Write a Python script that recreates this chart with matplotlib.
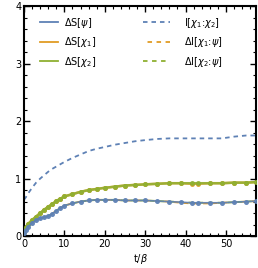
import matplotlib.pyplot as plt
from matplotlib.ticker import MultipleLocator

t = [0, 0.5, 1, 2, 3, 4, 5, 6, 7, 8, 9, 10, 12, 14, 16, 18, 20, 22.5, 25,
     27.5, 30, 33, 36, 39, 41.5, 43, 46, 49, 52, 55, 57.5]

i12 = [0.63, 0.68, 0.74, 0.84, 0.93, 1.0, 1.06, 1.12, 1.17, 1.21, 1.25, 1.29,
       1.36, 1.42, 1.48, 1.52, 1.55, 1.59, 1.62, 1.65, 1.67, 1.69, 1.70, 1.70,
       1.70, 1.70, 1.70, 1.70, 1.73, 1.75, 1.75]

s_chi = [0.08, 0.15, 0.21, 0.28, 0.34, 0.40, 0.46, 0.51, 0.56, 0.61, 0.65, 0.69,
         0.73, 0.77, 0.80, 0.82, 0.84, 0.86, 0.88, 0.89, 0.90, 0.91, 0.92, 0.92,
         0.91, 0.91, 0.92, 0.92, 0.93, 0.93, 0.94]
s_chi2 = [0.08, 0.15, 0.21, 0.28, 0.34, 0.40, 0.46, 0.51, 0.56, 0.61, 0.65, 0.69,
          0.73, 0.77, 0.80, 0.82, 0.84, 0.86, 0.88, 0.89, 0.90, 0.91, 0.92, 0.92,
          0.92, 0.92, 0.92, 0.92, 0.93, 0.93, 0.94]

s_psi = [0.05, 0.10, 0.16, 0.23, 0.28, 0.31, 0.33, 0.35, 0.39, 0.44, 0.49, 0.53,
         0.57, 0.60, 0.62, 0.63, 0.63, 0.63, 0.62, 0.62, 0.62, 0.61, 0.60, 0.59,
         0.58, 0.58, 0.58, 0.58, 0.59, 0.60, 0.61]
di1 = [0.05, 0.10, 0.16, 0.23, 0.28, 0.31, 0.33, 0.35, 0.39, 0.44, 0.49, 0.53,
       0.57, 0.60, 0.62, 0.63, 0.63, 0.63, 0.62, 0.62, 0.62, 0.61, 0.60, 0.58,
       0.57, 0.57, 0.57, 0.58, 0.59, 0.60, 0.61]
di2 = s_psi

blue, orange, green = '#5E81B5', '#E19C24', '#8FB032'

fig = plt.figure(figsize=(2.58, 2.68), dpi=100)
ax = fig.add_axes([0.093, 0.119, 0.9, 0.858])

ms = 2.6
l_s1, = ax.plot(t, s_chi, '-o', color=orange, lw=1.8, ms=ms, alpha=0.85, label=r'$\Delta$S[$\chi_1$]', zorder=2)
l_s2, = ax.plot(t, s_chi2, '-o', color=green, lw=1.8, ms=ms, alpha=0.85, label=r'$\Delta$S[$\chi_2$]', zorder=3)
l_i2, = ax.plot(t, di2, color=green, lw=1.4, ls=(0, (2.5, 2.5)), label=r'$\Delta$I[$\chi_2$:$\psi$]', zorder=2)
l_i1, = ax.plot(t, di1, color=orange, lw=1.4, ls=(2.5, (2.5, 2.5)), label=r'$\Delta$I[$\chi_1$:$\psi$]', zorder=2)
l_sp, = ax.plot(t, s_psi, '-o', color=blue, lw=1.2, ms=ms, alpha=0.9, label=r'$\Delta$S[$\psi$]', zorder=3)
l_12, = ax.plot(t, i12, color=blue, lw=1.3, ls=(0, (2.5, 2.2)), label=r'I[$\chi_1$:$\chi_2$]', zorder=2)

ax.set_xlim(0, 57.5)
ax.set_ylim(0, 4)
ax.xaxis.set_major_locator(MultipleLocator(10))
ax.xaxis.set_minor_locator(MultipleLocator(2))
ax.yaxis.set_major_locator(MultipleLocator(1))
ax.yaxis.set_minor_locator(MultipleLocator(0.2))
ax.tick_params(which='both', direction='in', top=True, right=True, labelsize=7, pad=2)
ax.tick_params(which='major', length=4, width=1)
ax.tick_params(which='minor', length=2, width=0.8)
for s in ax.spines.values():
    s.set_linewidth(1.5)
ax.set_xlabel(r't/$\beta$', fontsize=7, labelpad=2)


def fix(leg):
    for lh in leg.legend_handles:
        lh.set_marker('')
        lh.set_alpha(1)
        lh.set_linewidth(1.3)


leg1 = ax.legend([l_sp, l_s1, l_s2], [l.get_label() for l in (l_sp, l_s1, l_s2)],
                 loc='upper left', fontsize=7, frameon=False, borderaxespad=0,
                 borderpad=0, handlelength=1.9, handletextpad=0.6,
                 labelspacing=0.55, bbox_to_anchor=(0.069, 0.958))
fix(leg1)
ax.add_artist(leg1)
leg2 = ax.legend([l_12, l_i1, l_i2], [l.get_label() for l in (l_12, l_i1, l_i2)],
                 loc='upper left', fontsize=7, frameon=False, borderaxespad=0,
                 borderpad=0, handlelength=2.8, handletextpad=1.4,
                 labelspacing=0.55, bbox_to_anchor=(0.513, 0.958))
fix(leg2)

fig.savefig('out.png', dpi=100)
